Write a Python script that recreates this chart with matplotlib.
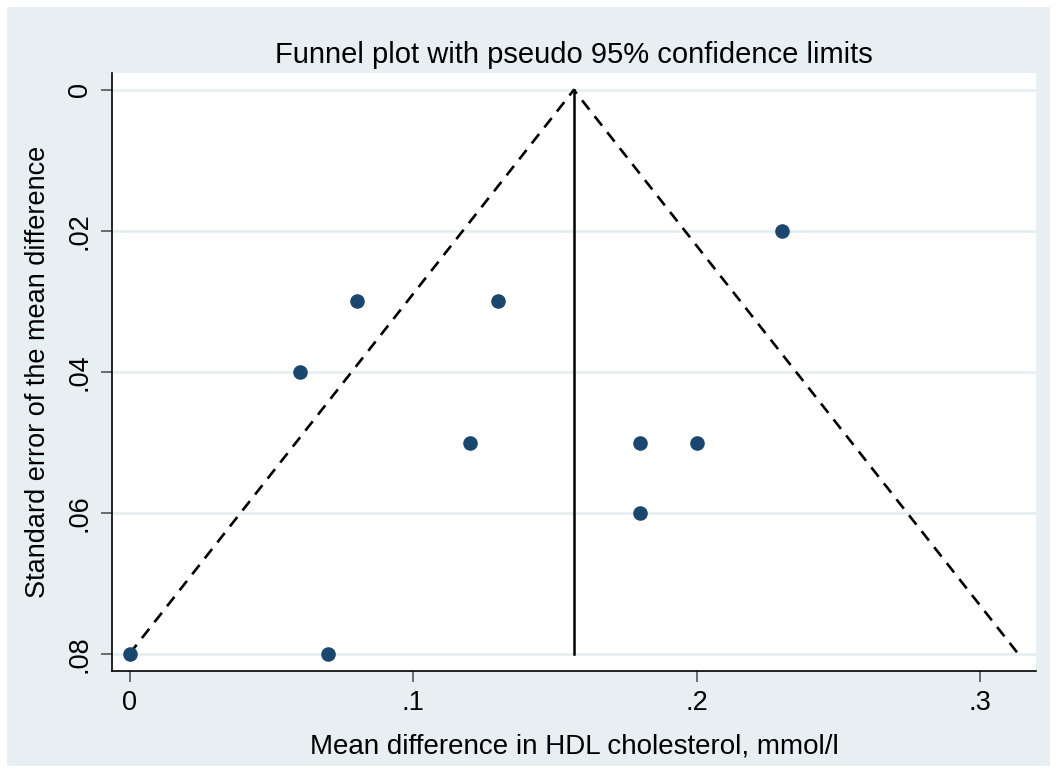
import matplotlib.pyplot as plt
import numpy as np
from matplotlib.patches import Rectangle

# study estimates
mean_diff = [0.23, 0.08, 0.13, 0.06, 0.12, 0.18, 0.20, 0.18, 0.00, 0.07]
std_err = [0.02, 0.03, 0.03, 0.04, 0.05, 0.05, 0.05, 0.06, 0.08, 0.08]
pooled = 0.1566
se_max = 0.08
y_ticks = [0, 0.02, 0.04, 0.06, 0.08]
y_tick_labels = ["0", ".02", ".04", ".06", ".08"]
x_ticks = [0, 0.1, 0.2, 0.3]
x_tick_labels = ["0", ".1", ".2", ".3"]

plt.rcParams['font.family'] = ['Liberation Sans', 'DejaVu Sans']

fig = plt.figure(figsize=(10.58, 7.73), dpi=100, facecolor='white')
fig.patches.append(Rectangle((7 / 1058, 7 / 773), 1043 / 1058, 759 / 773,
                             transform=fig.transFigure, facecolor='#e8eff2',
                             edgecolor='none', zorder=-10))

ax = fig.add_axes([112 / 1058, 1 - 671 / 773, 924 / 1058, 598 / 773])
ax.set_facecolor('white')

# pseudo 95% confidence limits
lo = pooled - 1.96 * se_max
hi = pooled + 1.96 * se_max
ax.plot([lo, pooled, hi], [se_max, 0, se_max], color='black', ls=(0, (4.5, 3.2)), lw=1.9)
ax.plot([pooled, pooled], [0, se_max], color='black', lw=1.8)

ax.scatter(mean_diff, std_err, s=90, color='#1a476f', zorder=3)

ax.set_xlim(-0.0063, 0.3196)
ax.set_ylim(0.0824, -0.0024)
ax.set_yticks(y_ticks)
ax.set_yticklabels(y_tick_labels, rotation=90, va='center')
ax.set_xticks(x_ticks)
ax.set_xticklabels(x_tick_labels)
ax.tick_params(labelsize=19.5, length=8, width=1.2, color='#555555', pad=6)
ax.grid(axis='y', color='#e4edf0', lw=1.8)
ax.set_axisbelow(True)

for side in ['top', 'right']:
    ax.spines[side].set_visible(False)
for side in ['left', 'bottom']:
    ax.spines[side].set_linewidth(1.2)

ax.set_title('Funnel plot with pseudo 95% confidence limits', fontsize=21, pad=7)
ax.set_xlabel('Mean difference in HDL cholesterol, mmol/l', fontsize=20, labelpad=12)
ax.set_ylabel('Standard error of the mean difference', fontsize=19.5, labelpad=11)

fig.savefig('out.png', dpi=100, facecolor=fig.get_facecolor())
